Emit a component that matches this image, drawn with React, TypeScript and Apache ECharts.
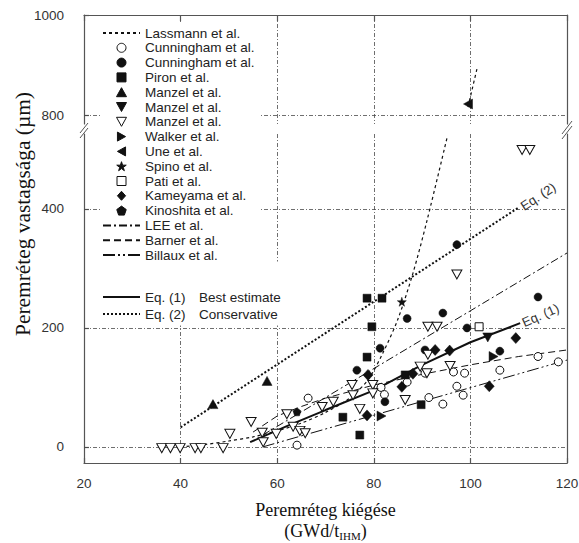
import React, { useEffect, useRef } from 'react';
import * as echarts from 'echarts';

// ---------- axes ----------
const xTicks = [20, 40, 60, 80, 100, 120];
const yTicksLower = [0, 200, 400];
const yTicksUpper = [800, 1000];

// ---------- model / fit lines ----------
const lassmannLow = [[40, 0], [45, 4], [50, 10], [55, 17], [60, 27], [65, 40], [70, 58], [75, 82], [78.8, 113], [82, 160], [85, 215], [88.1, 292], [91, 380], [95.2, 521]];
const lassmannHigh = [[99.5, 816], [101.4, 894]];
const leeLine = [[57, 20], [120, 326]];
const barnerLine = [[55, 25], [60, 52], [65, 68], [70, 82], [80, 104], [90, 122], [100, 138], [110, 152], [120, 163]];
const billauxLine = [[57, 0], [120, 146]];
const eq1Line = [[54.4, 8], [62, 35], [70, 62], [80, 95], [90, 138], [100, 176], [110.3, 208]];
const eq2Line = [[40, 33], [110.1, 403]];

// ---------- measured points ----------
const cunninghamOpen = [[64.1, 3], [66.4, 82], [81.5, 100], [82.2, 88], [86.9, 109], [90.6, 124], [91.4, 83], [94.3, 72], [97.2, 102], [96.5, 126], [98.5, 87], [98.8, 124], [106.1, 129], [114, 152], [118.2, 143]];
const cunninghamFilled = [[76.5, 129], [81.3, 166], [82.3, 76], [86.9, 216], [90.6, 163], [94.3, 225], [99.3, 200], [97.2, 340], [106.1, 161], [114, 252]];
const pironPts = [[78.6, 250], [81.7, 250], [79.6, 202], [78.6, 151], [86.5, 121], [73.6, 50], [77.1, 20], [89.8, 71]];
const manzelUp = [[46.7, 72], [57.9, 111]];
const manzelDown = [[103.6, 184]];
const manzelOpen = [[36.1, -2], [37.9, -2], [39.9, -2], [43.0, -2], [44.2, -2], [48.8, -2], [50.2, 22], [54.6, 42], [56.9, 24], [57.1, 8], [59.8, 22], [62, 55], [63.3, 34], [64.7, 27], [65.8, 23], [69.3, 67], [71.6, 76], [75.5, 104], [75.7, 87], [77.1, 64], [79.8, 104], [79.8, 90], [86.5, 79], [89.6, 135], [91, 124], [91.2, 155], [95.8, 136], [91.2, 202], [93.1, 202], [97.2, 290], [110.7, 499], [112.3, 499]];
const walkerPts = [[81.6, 52], [104.8, 152]];
const unePts = [[99.5, 822]];
const spinoPts = [[85.8, 244]];
const patiPts = [[101.8, 202]];
const kameyamaPts = [[78.8, 121], [78.6, 53], [85.8, 101], [88.1, 123], [92.7, 163], [95.7, 162], [103.9, 102], [109.4, 183]];
const kinoshitaPts = [[64.1, 59]];

// ---------- legend text ----------
const legendNames = [
  'Lassmann et al.', 'Cunningham et al.', 'Cunningham et al. ', 'Piron et al.',
  'Manzel et al.', 'Manzel et al. ', 'Manzel et al.  ', 'Walker et al.', 'Une et al.',
  'Spino et al.', 'Pati et al.', 'Kameyama et al.', 'Kinoshita et al.',
  'LEE et al.', 'Barner et al.', 'Billaux et al.',
];
const eqNames = ['Eq. (1)', 'Eq. (2)'];
const eqDesc = ['Best estimate', 'Conservative'];

const SANS = '"Liberation Sans", Arial, Helvetica, sans-serif';
const SERIF = '"Liberation Serif", "Times New Roman", serif';
const INK = '#111';
const GRID = '#4a4a4a';

const SYM = {
  square: 'path://M0,0H10V10H0Z',
  up: 'path://M5,0L10,9L0,9Z',
  down: 'path://M0,0L10,0L5,9Z',
  right: 'path://M0,0L9,5L0,10Z',
  left: 'path://M9,0L0,5L9,10Z',
  diamond: 'path://M5,0L10,5.5L5,11L0,5.5Z',
  star: 'path://M50,0L61,35L98,35L68,57L79,91L50,70L21,91L32,57L2,35L39,35Z',
  pentagon: 'path://M50,0L98,35L79,91L21,91L2,35Z',
};

export default function App() {
  const ref = useRef<HTMLDivElement>(null);

  useEffect(() => {
    if (!ref.current) return;
    const chart = echarts.init(ref.current, undefined, { renderer: 'svg' });

    const gridLineStyle = { color: GRID, width: 0.8, type: [4, 2, 1, 2] as any };
    const axisLineStyle = { color: '#555', width: 1.2 };
    const noColor = 'rgba(0,0,0,0)';

    const lineS = (name: string, data: number[][], dash: any, width: number, upper = false, extra: any = {}) => ({
      name,
      type: 'line',
      xAxisIndex: upper ? 0 : 1,
      yAxisIndex: upper ? 0 : 2,
      data,
      symbol: 'none',
      showSymbol: false,
      smooth: false,
      lineStyle: { color: INK, width, type: dash },
      itemStyle: { color: noColor, borderColor: noColor, borderWidth: 0 },
      z: 2,
      ...extra,
    });

    const scat = (name: string, data: number[][], symbol: string, size: any, open: boolean, upper = false, extra: any = {}) => ({
      name,
      type: 'scatter',
      xAxisIndex: upper ? 0 : 1,
      yAxisIndex: upper ? 0 : 2,
      data,
      symbol,
      symbolSize: size,
      itemStyle: open
        ? { color: '#fff', borderColor: INK, borderWidth: 1, opacity: 1 }
        : { color: INK, borderColor: INK, borderWidth: 0.5, opacity: 1 },
      z: 3,
      ...extra,
    });

    const eqLabel = (text: string, rotate: number, pt: number[]) => ({
      symbol: 'circle',
      symbolSize: 1,
      itemStyle: { color: noColor },
      label: {
        show: true, position: 'right', distance: 2, formatter: text, rotate,
        fontFamily: SANS, fontSize: 13, color: '#333',
      },
      data: [{ coord: pt }],
    });

    const option: any = {
      animation: false,
      backgroundColor: '#fff',
      grid: [
        { left: 84, right: 12, top: 15, height: 109, outerBoundsMode: 'none', containLabel: false },
        { left: 84, right: 12, top: 134, height: 329, outerBoundsMode: 'none', containLabel: false },
      ],
      xAxis: [
        {
          gridIndex: 0, type: 'value', min: 20, max: 120, interval: 20, position: 'top',
          axisLine: { show: true, onZero: false, lineStyle: axisLineStyle },
          axisTick: { show: true, inside: true, length: 6, lineStyle: axisLineStyle },
          axisLabel: { show: false },
          splitLine: { show: true, lineStyle: gridLineStyle },
        },
        {
          gridIndex: 1, type: 'value', min: 20, max: 120, interval: 20, position: 'bottom',
          axisLine: { show: true, onZero: false, lineStyle: axisLineStyle },
          axisTick: { show: true, inside: true, length: 5, lineStyle: axisLineStyle },
          axisLabel: { show: true, margin: 13, fontFamily: SANS, fontSize: 13.5, color: '#333', formatter: (v: number) => (xTicks.includes(v) ? String(v) : '') },
          splitLine: { show: true, lineStyle: gridLineStyle },
          name: '{t|Peremréteg kiégése}\n{t|(GWd/t}{s|IHM}{t|)}',
          nameLocation: 'middle',
          nameGap: 36,
          nameTextStyle: {
            fontFamily: SERIF, fontSize: 18, color: INK, lineHeight: 21,
            rich: {
              t: { fontFamily: SERIF, fontSize: 18, color: INK, lineHeight: 21 },
              s: { fontFamily: SERIF, fontSize: 11, color: INK, lineHeight: 21, verticalAlign: 'bottom' },
            },
          },
        },
      ],
      yAxis: [
        {
          gridIndex: 0, type: 'value', min: 782, max: 1000, position: 'left',
          axisLine: { show: true, onZero: false, lineStyle: axisLineStyle },
          axisTick: { show: true, inside: true, length: 5, customValues: yTicksUpper, lineStyle: axisLineStyle },
          axisLabel: { show: true, margin: 20, customValues: yTicksUpper, formatter: (v: number) => String(v), fontFamily: SANS, fontSize: 13.5, color: '#333' },
          splitLine: { show: false },
        },
        {
          gridIndex: 0, type: 'value', min: 782, max: 1000, position: 'right',
          axisLine: { show: true, onZero: false, lineStyle: axisLineStyle },
          axisTick: { show: false }, axisLabel: { show: false }, splitLine: { show: false },
        },
        {
          gridIndex: 1, type: 'value', min: -27, max: 526, position: 'left',
          axisLine: { show: true, onZero: false, lineStyle: axisLineStyle },
          axisTick: { show: true, inside: true, length: 5, customValues: yTicksLower, lineStyle: axisLineStyle },
          axisLabel: { show: true, margin: 20, customValues: yTicksLower, formatter: (v: number) => String(v), fontFamily: SANS, fontSize: 13.5, color: '#333' },
          splitLine: { show: false },
        },
        {
          gridIndex: 1, type: 'value', min: -27, max: 526, position: 'right',
          axisLine: { show: true, onZero: false, lineStyle: axisLineStyle },
          axisTick: { show: false }, axisLabel: { show: false }, splitLine: { show: false },
        },
      ],
      legend: [
        {
          orient: 'vertical', left: 100, top: 24, padding: [2, 6, 2, 2],
          itemWidth: 37, itemHeight: 9, itemGap: 0.8,
          backgroundColor: '#fff', selectedMode: false, z: 6,
          data: legendNames,
          formatter: (n: string) => n.trim(),
          itemStyle: { borderWidth: 1 },
          textStyle: { fontFamily: SANS, fontSize: 13.5, color: '#222', lineHeight: 14 },
        },
        {
          orient: 'vertical', left: 100, top: 261.5, padding: [28, 6, 4, 2],
          itemWidth: 37, itemHeight: 9, itemGap: 2,
          backgroundColor: '#fff', selectedMode: false, z: 6,
          data: eqNames,
          formatter: (n: string) => `{a|${n}}{b|${eqDesc[eqNames.indexOf(n)]}}`,
          textStyle: {
            fontFamily: SANS, fontSize: 13.5, color: '#222', lineHeight: 15,
            rich: {
              a: { fontFamily: SANS, fontSize: 13.5, color: '#222', width: 54, lineHeight: 15 },
              b: { fontFamily: SANS, fontSize: 13.5, color: '#222', lineHeight: 15 },
            },
          },
        },
      ],
      graphic: [
        {
          type: 'text', x: 23, y: 214, rotation: Math.PI / 2, scaleX: 1.07, z: 10,
          style: { text: 'Peremréteg vastagsága (µm)', font: `20px ${SERIF}`, fill: INK, textAlign: 'center', textVerticalAlign: 'middle' },
        },
        { type: 'line', z: 10, shape: { x1: 80, y1: 133, x2: 88, y2: 123 }, style: { stroke: '#555', lineWidth: 1 } },
        { type: 'line', z: 10, shape: { x1: 80, y1: 138, x2: 88, y2: 128 }, style: { stroke: '#555', lineWidth: 1 } },
        { type: 'line', z: 10, shape: { x1: 562, y1: 134, x2: 572, y2: 121 }, style: { stroke: '#555', lineWidth: 1 } },
        { type: 'line', z: 10, shape: { x1: 562, y1: 139, x2: 572, y2: 126 }, style: { stroke: '#555', lineWidth: 1 } },
      ],
      series: [
        lineS('Lassmann et al.', lassmannLow, [3, 3], 1.2, false, {
          smooth: 0.3,
          markLine: {
            z: 1, silent: true, symbol: 'none', label: { show: false },
            lineStyle: gridLineStyle,
            data: yTicksLower.map((v) => ({ yAxis: v })),
          },
        }),
        lineS('Lassmann et al.', lassmannHigh, [3, 3], 1.2, true),
        scat('Cunningham et al.', cunninghamOpen, 'circle', 8, true),
        scat('Cunningham et al. ', cunninghamFilled, 'circle', 8, false),
        scat('Piron et al.', pironPts, SYM.square, 8, false),
        scat('Manzel et al.', manzelUp, SYM.up, [10, 9], false),
        scat('Manzel et al. ', manzelDown, SYM.down, [10, 9], false),
        scat('Manzel et al.  ', manzelOpen, SYM.down, [10, 9], true),
        scat('Walker et al.', walkerPts, SYM.right, [9, 10], false),
        scat('Une et al.', unePts, SYM.left, [9, 10], false, true, {
          markLine: {
            z: 1, silent: true, symbol: 'none', label: { show: false },
            lineStyle: gridLineStyle,
            data: [{ yAxis: yTicksUpper[0] }],
          },
        }),
        scat('Spino et al.', spinoPts, SYM.star, 9, false),
        scat('Pati et al.', patiPts, SYM.square, 8, true),
        scat('Kameyama et al.', kameyamaPts, SYM.diamond, [10, 11], false),
        scat('Kinoshita et al.', kinoshitaPts, SYM.pentagon, 8, false),
        lineS('LEE et al.', leeLine, [8, 3, 2, 3], 1),
        lineS('Barner et al.', barnerLine, [7, 4], 1),
        lineS('Billaux et al.', billauxLine, [12, 3, 2, 3, 2, 3], 1),
        lineS('Eq. (1)', eq1Line, 'solid', 2, false, { markPoint: eqLabel('Eq. (1)', 24, eq1Line[eq1Line.length - 1]) }),
        lineS('Eq. (2)', eq2Line, [2, 2], 2, false, { markPoint: eqLabel('Eq. (2)', 33, eq2Line[eq2Line.length - 1]) }),
      ],
    };

    chart.setOption(option);
    return () => chart.dispose();
  }, []);

  return <div ref={ref} style={{ position: 'fixed', left: 0, top: 0, width: 579, height: 543, background: '#fff' }} />;
}
